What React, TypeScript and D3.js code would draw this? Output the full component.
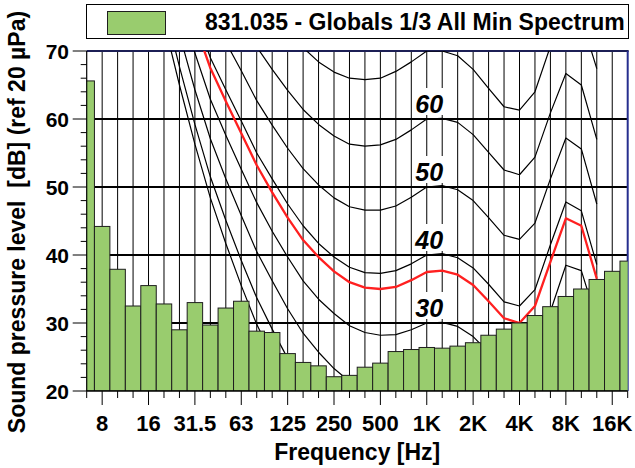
import React from 'react';
import * as d3 from 'd3';

// 1/3 octave band centres, 6.3 Hz .. 20 kHz
const bands = [
  '6.3', '8', '10', '12.5', '16', '20', '25', '31.5', '40', '50', '63', '80',
  '100', '125', '160', '200', '250', '315', '400', '500', '630', '800', '1K', '1.25K',
  '1.6K', '2K', '2.5K', '3.15K', '4K', '5K', '6.3K', '8K', '10K', '12.5K', '16K', '20K',
];

// minimum spectrum, dB per band
const spectrum = [
  65.6, 44.2, 37.9, 32.5, 35.5, 32.8, 29.0, 33.0, 29.7, 32.2, 33.2, 28.8,
  28.6, 25.5, 24.2, 23.7, 22.1, 22.3, 23.5, 24.1, 25.8, 26.1, 26.4, 26.3,
  26.6, 27.1, 28.2, 29.1, 30.0, 31.1, 32.4, 33.9, 35.0, 36.4, 37.6, 39.1,
];

const xTickLabels = ['8', '16', '31.5', '63', '125', '250', '500', '1K', '2K', '4K', '8K', '16K'];
const yTickLabels = [20, 30, 40, 50, 60, 70];
const gridLevels = [30, 40, 50, 60];
const contourLabels = [30, 40, 50, 60];

// equal loudness contours, values from the first listed band onwards
const mafStart = '20';
const contourMAF = [74.3, 65.0, 56.3, 48.4, 41.7, 35.5, 29.8, 25.1, 20.7];
const contour10 = [76.8, 67.7, 59.2, 51.5, 45.1, 39.2, 33.7, 29.1, 24.8, 21.0, 18.1];
const contour20 = [81.3, 72.5, 64.3, 57.1, 51.2, 45.8, 40.5, 36.2, 32.1, 28.5, 25.7, 23.3, 21.4, 20.1, 19.4];
const contour30 = [
  86.0, 77.6, 69.7, 62.9, 57.6, 52.6, 47.7, 43.5, 39.7, 36.2, 33.5, 31.4, 29.6, 28.6, 28.2,
  28.3, 29.0, 30.0, 30.1, 29.5, 28.0, 25.7, 23.2, 22.6, 25.0, 31.7, 38.5, 37.7, 30.4,
];
const contour40 = [
  91.0, 82.9, 75.4, 69.0, 64.3, 59.7, 55.0, 51.2, 47.5, 44.3, 41.7, 39.7, 38.2, 37.4, 37.3,
  37.7, 38.7, 40.0, 40.2, 39.6, 38.1, 35.7, 33.1, 32.5, 34.9, 41.5, 47.8, 46.5, 38.6,
];
const contourFit = [
  89.7, 81.5, 73.9, 67.5, 62.6, 57.9, 53.2, 49.2, 45.5, 42.2, 39.7, 37.6, 36.0, 35.2, 35.0,
  35.3, 36.3, 37.5, 37.7, 37.1, 35.6, 33.2, 30.7, 30.0, 32.5, 39.0, 45.4, 44.3, 36.5,
];
const start50 = '31.5';
const contour50 = [
  81.3, 75.4, 71.3, 67.1, 62.7, 59.1, 55.7, 52.7, 50.3, 48.4, 47.1, 46.6, 46.6, 47.2,
  48.5, 50.0, 50.2, 49.6, 48.0, 45.5, 42.9, 42.3, 44.7, 51.2, 57.2, 55.6, 47.5,
];
const start60 = '40';
const contour60 = [
  82.1, 78.6, 74.8, 70.6, 67.3, 64.2, 61.4, 59.2, 57.5, 56.3, 56.0, 56.2, 57.0,
  58.4, 60.0, 60.1, 59.5, 57.7, 55.1, 52.5, 51.8, 54.4, 60.9, 66.7, 65.0, 57.0,
];
const start70 = '63';
const contour70 = [
  82.8, 78.8, 75.8, 73.0, 70.5, 68.4, 66.9, 66.0, 65.8, 66.0, 67.0, 68.4,
  70.0, 70.0, 69.3, 67.3, 64.5, 61.8, 61.3, 64.0, 70.7, 76.4, 74.8, 67.4,
];

const W = 635;
const H = 468;
const plot = { left: 86.7, right: 627.7, top: 51, bottom: 391 };
const FONT = 'Liberation Sans, Arial, Helvetica, sans-serif';
const GREEN = '#99cc6e';

const App = () => {
  const x = d3.scaleLinear().domain([0, bands.length - 1]).range([plot.left, plot.right]);
  const y = d3.scaleLinear().domain([20, 70]).range([plot.bottom, plot.top]);
  const step = x(1) - x(0);

  const contours = [
    { start: mafStart, values: contourMAF, color: '#000', w: 1.2 },
    { start: mafStart, values: contour10, color: '#000', w: 1.2 },
    { start: mafStart, values: contour20, color: '#000', w: 1.2 },
    { start: mafStart, values: contour30, color: '#000', w: 1.2 },
    { start: mafStart, values: contour40, color: '#000', w: 1.2 },
    { start: start50, values: contour50, color: '#000', w: 1.2 },
    { start: start60, values: contour60, color: '#000', w: 1.2 },
    { start: start70, values: contour70, color: '#000', w: 1.2 },
    { start: mafStart, values: contourFit, color: '#ff2020', w: 2.3 },
  ];

  const lineFor = (start: number) =>
    d3
      .line<number>()
      .x((_, i) => x(start + i))
      .y((v) => y(v));

  const labelX = x(bands.indexOf('1K')) + 2.5;

  return (
    <svg
      width={W}
      height={H}
      style={{ position: 'absolute', left: 0, top: 0, background: '#fff' }}
      fontFamily={FONT}
    >
      <defs>
        <clipPath id="plotClip">
          <rect x={plot.left} y={plot.top} width={plot.right - plot.left} height={plot.bottom - plot.top} />
        </clipPath>
      </defs>

      {/* vertical grid at every band centre */}
      {bands.map((b, i) =>
        i > 0 && i < bands.length - 1 ? (
          <line key={'vg' + b} x1={x(i)} x2={x(i)} y1={plot.top} y2={plot.bottom} stroke="#000" strokeWidth={1} />
        ) : null
      )}
      {gridLevels.map((v) => (
        <line key={'hg' + v} x1={plot.left} x2={plot.right} y1={y(v)} y2={y(v)} stroke="#000" strokeWidth={2} />
      ))}

      {/* frame top / right */}
      <line x1={plot.left} x2={plot.right + 1} y1={plot.top} y2={plot.top} stroke="#1c1f55" strokeWidth={2.2} />
      <line x1={plot.right} x2={plot.right} y1={plot.top} y2={plot.bottom} stroke="#262e8e" strokeWidth={2} />

      {/* contours */}
      <g clipPath="url(#plotClip)">
        {contours.map((c, k) => (
          <path
            key={'c' + k}
            d={lineFor(bands.indexOf(c.start))(c.values) || ''}
            fill="none"
            stroke={c.color}
            strokeWidth={c.w}
            strokeLinejoin="round"
          />
        ))}
      </g>

      {/* contour level labels */}
      {contourLabels.map((v) => (
        <g key={'cl' + v}>
          <rect x={labelX - 16} y={y(v) - 31} width={32} height={27} fill="#fff" />
          <text
            x={labelX}
            y={y(v) - 6}
            textAnchor="middle"
            fontSize={25}
            fontWeight="bold"
            fontStyle="italic"
            fill="#000"
          >
            {v}
          </text>
        </g>
      ))}

      {/* spectrum bars */}
      <g clipPath="url(#plotClip)">
        {spectrum.map((v, i) => (
          <rect
            key={'b' + i}
            x={x(i) - step / 2}
            y={y(v)}
            width={step}
            height={y(20) - y(v)}
            fill={GREEN}
            stroke="#1e1e1e"
            strokeWidth={1}
          />
        ))}
      </g>

      {/* axes */}
      <line x1={plot.left} x2={plot.left} y1={plot.top} y2={plot.bottom} stroke="#000" strokeWidth={1.2} />
      <line x1={plot.left} x2={plot.right} y1={plot.bottom} y2={plot.bottom} stroke="#000" strokeWidth={1.5} />

      {y.ticks(25).map((t) => {
        const major = yTickLabels.includes(t);
        return (
          <line
            key={'yt' + t}
            x1={plot.left - (major ? 14 : 6)}
            x2={plot.left}
            y1={y(t)}
            y2={y(t)}
            stroke="#000"
            strokeWidth={1}
          />
        );
      })}
      {yTickLabels.map((t) => (
        <text
          key={'yl' + t}
          x={69}
          y={y(t)}
          dy="0.36em"
          textAnchor="end"
          fontSize={21}
          fontWeight="bold"
          fill="#000"
        >
          {t}
        </text>
      ))}

      {bands.map((b, i) => {
        const major = xTickLabels.includes(b);
        return (
          <line
            key={'xt' + b}
            x1={x(i)}
            x2={x(i)}
            y1={plot.bottom}
            y2={plot.bottom + (major ? 14 : 7)}
            stroke="#000"
            strokeWidth={1}
          />
        );
      })}
      {xTickLabels.map((b) => (
        <text
          key={'xl' + b}
          x={x(bands.indexOf(b))}
          y={431}
          textAnchor="middle"
          fontSize={22}
          fontWeight="bold"
          fill="#000"
        >
          {b}
        </text>
      ))}

      <text x={(plot.left + plot.right) / 2} y={460} textAnchor="middle" fontSize={23} fontWeight="bold" fill="#000">
        Frequency [Hz]
      </text>
      <text
        transform={`translate(25, 222) rotate(-90)`}
        textAnchor="middle"
        fontSize={23}
        fontWeight="bold"
        fill="#000"
        style={{ whiteSpace: 'pre' }}
      >
        {'Sound pressure level  [dB] (ref 20 µPa)'}
      </text>

      {/* legend */}
      <rect x={86.5} y={4.5} width={542} height={34} fill="#fff" stroke="#000" strokeWidth={1} />
      <rect x={107.5} y={11.5} width={58} height={23} fill={GREEN} stroke="#1e1e1e" strokeWidth={1} />
      <text x={205} y={30} fontSize={23} fontWeight="bold" fill="#000">
        831.035 - Globals 1/3 All Min Spectrum
      </text>
    </svg>
  );
};

export default App;
